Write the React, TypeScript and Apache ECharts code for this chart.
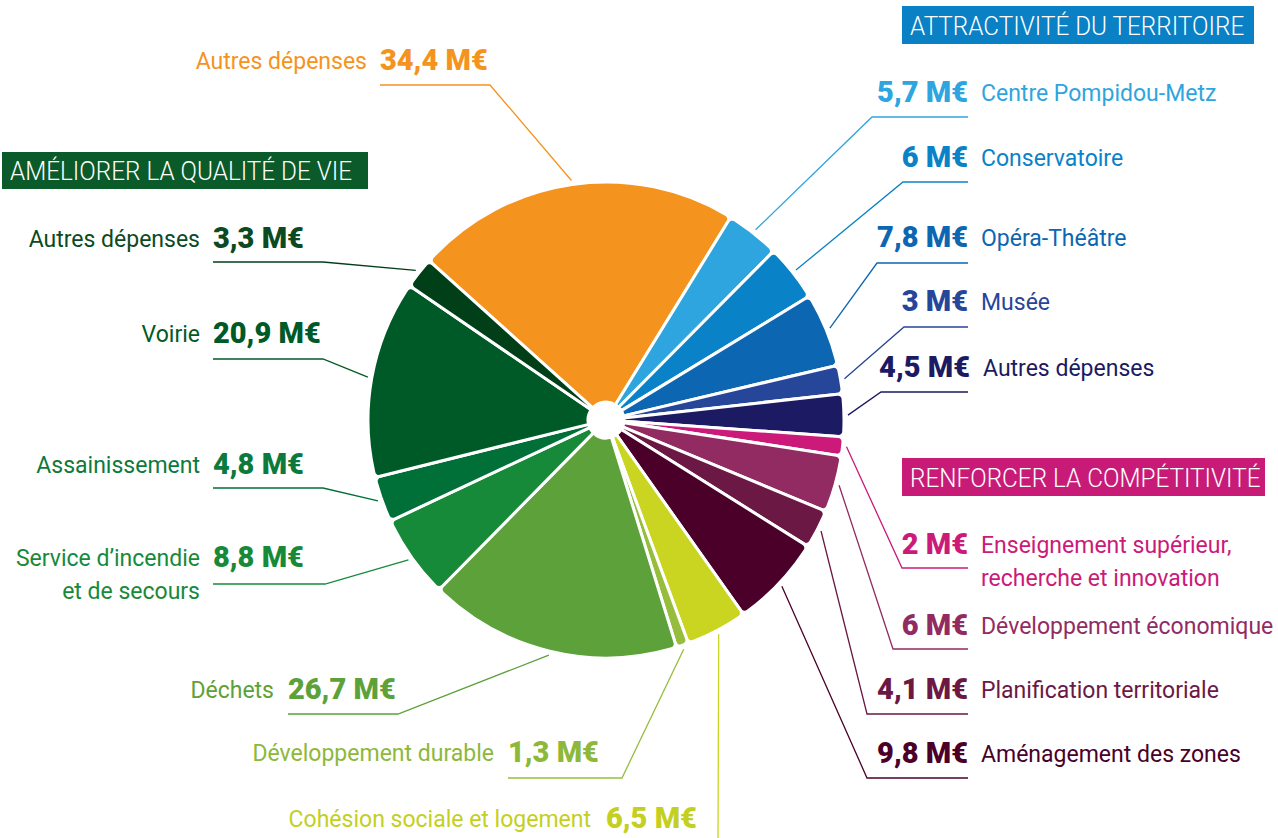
import React, { useEffect, useRef } from "react";
import * as echarts from "echarts";

// ---------- data ----------
const categories = [
  "Autres dépenses",
  "Centre Pompidou-Metz",
  "Conservatoire",
  "Opéra-Théâtre",
  "Musée",
  "Autres dépenses",
  "Enseignement supérieur,\nrecherche et innovation",
  "Développement économique",
  "Planification territoriale",
  "Aménagement des zones",
  "Cohésion sociale et logement",
  "Développement durable",
  "Déchets",
  "Service d’incendie\net de secours",
  "Assainissement",
  "Voirie",
  "Autres dépenses",
];
const values = [34.4, 5.7, 6, 7.8, 3, 4.5, 2, 6, 4.1, 9.8, 6.5, 1.3, 26.7, 8.8, 4.8, 20.9, 3.3];
const unit = "M€";
const groupTitles = ["ATTRACTIVITÉ DU TERRITOIRE", "AMÉLIORER LA QUALITÉ DE VIE", "RENFORCER LA COMPÉTITIVITÉ"];

// ---------- styles ----------
const sliceColors = [
  "#F5931F", "#2EA5DE", "#0A82C7", "#0C66B1", "#26469A", "#1B1A62",
  "#CB1A7A", "#922B62", "#6B1944", "#4A0029",
  "#C9D521", "#96BE3C", "#5CA13A",
  "#178A3A", "#006F38", "#005A27", "#013F19",
];
const textColors = [
  "#F5931F", "#2EA5DE", "#0A82C7", "#0C66B1", "#26469A", "#1B1A62",
  "#CB1A7A", "#922B62", "#6B1944", "#4A0029",
  "#C3D021", "#8DB83A", "#5CA13A",
  "#178A3A", "#0C7A3C", "#005A27", "#0B4A22",
];
const titleBoxes = [
  { x: 902, y: 6, w: 352, h: 38, color: "#0A80C5" },
  { x: 2, y: 152, w: 366, h: 37, color: "#0B5A2A" },
  { x: 902, y: 458, w: 363, h: 38, color: "#C81B78" },
];
// label layout: side, value anchor x, name anchor x, label centre y, elbow x/y, end x
const labelPos = [
  { side: "l", vx: 380, nx: 367, y: 60, bx: 490, by: 85 },
  { side: "r", vx: 968, nx: 981, y: 92, bx: 872, by: 117 },
  { side: "r", vx: 968, nx: 981, y: 157, bx: 903, by: 182 },
  { side: "r", vx: 968, nx: 981, y: 237, bx: 877, by: 263 },
  { side: "r", vx: 968, nx: 981, y: 301, bx: 904, by: 327 },
  { side: "r", vx: 970, nx: 983, y: 367, bx: 881, by: 392 },
  { side: "r", vx: 968, nx: 981, y: 544, bx: 902, by: 568 },
  { side: "r", vx: 968, nx: 981, y: 625, bx: 893, by: 649 },
  { side: "r", vx: 968, nx: 981, y: 689, bx: 867, by: 714 },
  { side: "r", vx: 968, nx: 981, y: 753, bx: 867, by: 778 },
  { side: "l", vx: 606, nx: 591, y: 818, bx: 718, by: 845, ex: 718 },
  { side: "l", vx: 508, nx: 494, y: 752, bx: 622, by: 778 },
  { side: "l", vx: 288, nx: 274, y: 689, bx: 398, by: 714 },
  { side: "l", vx: 213, nx: 200, y: 557, bx: 325, by: 584 },
  { side: "l", vx: 213, nx: 200, y: 464, bx: 323, by: 488 },
  { side: "l", vx: 213, nx: 200, y: 333, bx: 323, by: 359 },
  { side: "l", vx: 213, nx: 200, y: 238, bx: 323, by: 262 },
];

const CX = 606;
const CY = 420;
const NAME_LH = 33;

const fmt = (v: number) => String(v).replace(".", ",") + " " + unit;

export default function App() {
  const ref = useRef<HTMLDivElement>(null);
  useEffect(() => {
    const chart = echarts.init(ref.current!, null, { renderer: "svg" });

    const valueData = values.map((v, i) => ({
      name: categories[i],
      value: v,
      itemStyle: { color: sliceColors[i] },
      label: { color: textColors[i] },
      labelLine: { lineStyle: { color: sliceColors[i] } },
    }));
    const nameData = values.map((v, i) => ({
      name: categories[i],
      value: v,
      label: { color: textColors[i] },
    }));

    const common: any = {
      type: "pie",
      center: [CX, CY],
      radius: [18, 238],
      startAngle: 138,
      clockwise: true,
      avoidLabelOverlap: false,
      silent: true,
    };

    const graphic: any[] = [];
    titleBoxes.forEach((b, i) => {
      graphic.push({
        type: "group",
        left: b.x,
        top: b.y,
        children: [
          { type: "rect", shape: { x: 0, y: 0, width: b.w, height: b.h }, style: { fill: b.color } },
          {
            type: "text",
            x: 8,
            y: b.h / 2 + 1,
            scaleX: 0.935,
            style: {
              text: groupTitles[i],
              fill: "#ffffff",
              font: "300 26px Roboto",
              textVerticalAlign: "middle",
              verticalAlign: "middle",
            },
          },
        ],
      });
    });

    chart.setOption({
      animation: false,
      graphic,
      series: [
        {
          ...common,
          name: "values",
          data: valueData,
          itemStyle: { borderColor: "#ffffff", borderWidth: 3, borderRadius: [0, 5] },
          label: {
            show: true,
            position: "outside",
            formatter: (p: any) => fmt(p.value),
            fontFamily: "Roboto",
            fontWeight: 900,
            fontSize: 29,
          },
          labelLine: { show: true, smooth: false, length: 15, length2: 15, lineStyle: { width: 1.3 } },
          labelLayout: (p: any) => {
            const L: any = labelPos[p.dataIndex];
            let s = p.labelLinePoints ? p.labelLinePoints[0] : [CX, CY];
            const dx = s[0] - CX;
            const dy = s[1] - CY;
            const d = Math.sqrt(dx * dx + dy * dy) || 1;
            s = [s[0] + (dx / d) * 4, s[1] + (dy / d) * 4];
            const ex = L.ex != null ? L.ex : L.side === "r" ? 968 : L.vx;
            return {
              x: L.vx,
              y: L.y,
              align: L.side === "r" ? "right" : "left",
              verticalAlign: "middle",
              labelLinePoints: [s, [L.bx, L.by], [ex, L.by]],
            };
          },
        },
        {
          ...common,
          name: "names",
          data: nameData,
          itemStyle: { color: "rgba(0,0,0,0)", borderWidth: 0 },
          label: {
            show: true,
            position: "outside",
            formatter: (p: any) => p.name,
            fontFamily: "Roboto",
            fontSize: 23,
            lineHeight: NAME_LH,
          },
          labelLine: { show: false },
          labelLayout: (p: any) => {
            const L: any = labelPos[p.dataIndex];
            return {
              x: L.nx,
              y: L.y - NAME_LH / 2 + 1,
              align: L.side === "r" ? "left" : "right",
              verticalAlign: "top",
            };
          },
        },
      ],
    });
    return () => chart.dispose();
  }, []);
  return (
    <div
      ref={ref}
      style={{ position: "absolute", left: 0, top: 0, width: 1278, height: 838, background: "#ffffff" }}
    />
  );
}
